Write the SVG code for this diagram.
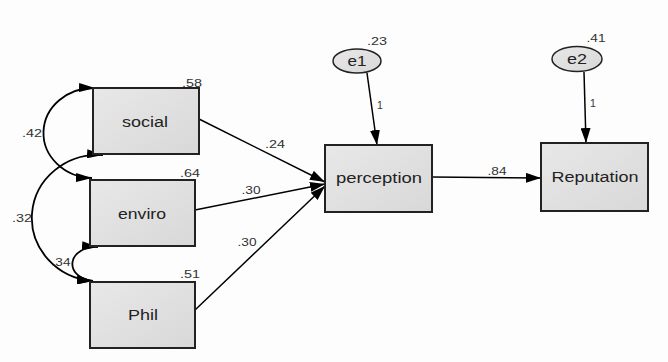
<svg xmlns="http://www.w3.org/2000/svg" width="668" height="362" viewBox="0 0 668 362">
<defs>
<linearGradient id="g" x1="0" y1="0" x2="1" y2="1">
<stop offset="0" stop-color="#e8e8e8"/>
<stop offset="1" stop-color="#d8d8d8"/>
</linearGradient>
<marker id="ah" viewBox="0 0 15 10" refX="15" refY="5" markerWidth="15" markerHeight="10" markerUnits="userSpaceOnUse" orient="auto">
<path d="M0,0 L15,5 L0,10 Z" fill="#000"/>
</marker>
<marker id="ch" viewBox="0 0 16 9" refX="16" refY="4.5" markerWidth="16" markerHeight="9" markerUnits="userSpaceOnUse" orient="auto-start-reverse">
<path d="M0,0 L16,4.5 L0,9 Z" fill="#000"/>
</marker>
</defs>
<style>
.box{fill:url(#g);stroke:#222;stroke-width:2}
.ell{fill:url(#g);stroke:#222;stroke-width:1.5}
.lbl{font-family:"Liberation Sans",Arial,sans-serif;font-size:14px;fill:#222;text-anchor:middle;dominant-baseline:central}
.num{font-family:"Liberation Sans",Arial,sans-serif;font-size:10.5px;fill:#333;text-anchor:middle;dominant-baseline:central}
.edge{fill:none;stroke:#000;stroke-width:1.5;marker-end:url(#ah)}
.cov{fill:none;stroke:#000;stroke-width:1.8;marker-start:url(#ch);marker-end:url(#ch)}
</style>
<rect width="668" height="362" fill="#fdfdfd"/>
<g id="connectors">
<path class="cov" d="M95,88 A50,45 0 0 0 92,178"/>
<path class="cov" d="M103,155 A66,63 0 0 0 93,281"/>
<path class="cov" d="M98,247 A23,17 0 0 0 93,281"/>
<line class="edge" x1="199" y1="119" x2="325" y2="182"/>
<line class="edge" x1="195" y1="210" x2="325" y2="184"/>
<line class="edge" x1="195" y1="310" x2="325" y2="186"/>
<line class="edge" x1="432" y1="177" x2="541" y2="178"/>
<line class="edge" x1="367" y1="73" x2="377" y2="145"/>
<line class="edge" x1="584" y1="72" x2="586" y2="143"/>
<text class="num" x="32" y="133" textLength="20" lengthAdjust="spacingAndGlyphs">.42</text>
<text class="num" x="22" y="218" textLength="20" lengthAdjust="spacingAndGlyphs">.32</text>
<text class="num" x="61" y="262" textLength="19" lengthAdjust="spacingAndGlyphs">.34</text>
<text class="num" x="275" y="144" textLength="20" lengthAdjust="spacingAndGlyphs">.24</text>
<text class="num" x="251" y="190" textLength="19" lengthAdjust="spacingAndGlyphs">.30</text>
<text class="num" x="247" y="242" textLength="19" lengthAdjust="spacingAndGlyphs">.30</text>
<text class="num" x="497" y="171" textLength="19" lengthAdjust="spacingAndGlyphs">.84</text>
<text class="num" x="380" y="105">1</text>
<text class="num" x="593" y="103">1</text>
</g>
<g id="social">
<rect class="box" x="93" y="88" width="106" height="66"/>
<text class="lbl" x="145" y="122" textLength="46" lengthAdjust="spacingAndGlyphs">social</text>
<text class="num" x="192" y="83" textLength="20" lengthAdjust="spacingAndGlyphs">.58</text>
</g>
<g id="enviro">
<rect class="box" x="90" y="180" width="105" height="66"/>
<text class="lbl" x="142" y="214" textLength="48" lengthAdjust="spacingAndGlyphs">enviro</text>
<text class="num" x="190" y="173" textLength="20" lengthAdjust="spacingAndGlyphs">.64</text>
</g>
<g id="Phil">
<rect class="box" x="90" y="282" width="105" height="66"/>
<text class="lbl" x="143" y="315" textLength="30" lengthAdjust="spacingAndGlyphs">Phil</text>
<text class="num" x="190" y="274" textLength="20" lengthAdjust="spacingAndGlyphs">.51</text>
</g>
<g id="perception">
<rect class="box" x="325" y="145" width="107" height="67"/>
<text class="lbl" x="379" y="178" textLength="86" lengthAdjust="spacingAndGlyphs">perception</text>
</g>
<g id="Reputation">
<rect class="box" x="541" y="143" width="107" height="68"/>
<text class="lbl" x="595" y="177" textLength="87" lengthAdjust="spacingAndGlyphs">Reputation</text>
</g>
<g id="e1">
<ellipse class="ell" cx="357" cy="61" rx="24" ry="12"/>
<text class="lbl" x="357" y="61" textLength="19" lengthAdjust="spacingAndGlyphs">e1</text>
<text class="num" x="377" y="41" textLength="20" lengthAdjust="spacingAndGlyphs">.23</text>
</g>
<g id="e2">
<ellipse class="ell" cx="577" cy="59" rx="25" ry="12.5"/>
<text class="lbl" x="577" y="59" textLength="20" lengthAdjust="spacingAndGlyphs">e2</text>
<text class="num" x="596" y="38" textLength="19" lengthAdjust="spacingAndGlyphs">.41</text>
</g>
</svg>
